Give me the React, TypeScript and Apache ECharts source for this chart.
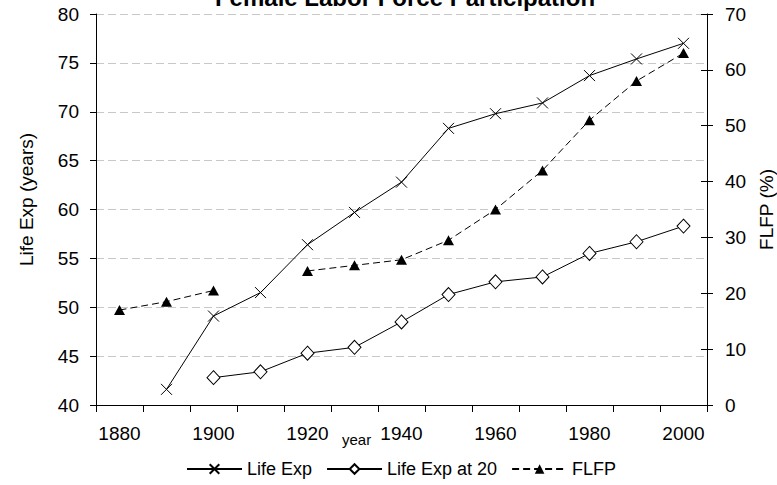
import React, { useEffect, useRef } from "react";
import * as echarts from "echarts";

const years = ["1880", "1890", "1900", "1910", "1920", "1930", "1940", "1950", "1960", "1970", "1980", "1990", "2000"];
const lifeExp = [null, 41.6, 49.1, 51.5, 56.4, 59.7, 62.8, 68.3, 69.8, 70.9, 73.7, 75.4, 77.0];
const lifeExp20 = [null, null, 42.8, 43.4, 45.3, 45.9, 48.5, 51.3, 52.6, 53.1, 55.5, 56.7, 58.3];
const flfp = [17, 18.5, 20.5, null, 24, 25, 26, 29.5, 35, 42, 51, 58, 63];

const FONT = "'Liberation Sans', Arial, sans-serif";

export default function App() {
  const ref = useRef<HTMLDivElement>(null);
  useEffect(() => {
    if (!ref.current) return;
    const chart = echarts.init(ref.current, null, { renderer: "svg" });
    chart.setOption({
      animation: false,
      backgroundColor: "#fff",
      textStyle: { fontFamily: FONT, color: "#000" },
      title: {
        text: "Female Labor Force Participation",
        left: 400,
        textAlign: "center",
        top: -20,
        textStyle: { fontFamily: FONT, fontSize: 24, fontWeight: "bold", color: "#000" },
      },
      grid: { left: 96, right: 70, top: 14, bottom: 80, containLabel: false, outerBoundsMode: "none" },
      legend: {
        top: 455,
        left: 181,
        itemWidth: 55,
        itemHeight: 12,
        itemGap: 14,
        textStyle: { fontFamily: FONT, fontSize: 18, color: "#000" },
        data: ["Life Exp", "Life Exp at 20", "FLFP"],
      },
      xAxis: {
        type: "category",
        data: years,
        boundaryGap: true,
        axisLine: { lineStyle: { color: "#000", width: 1 } },
        axisTick: { show: true, interval: 0, length: 7, lineStyle: { color: "#000" } },
        axisLabel: { interval: 1, margin: 19, fontSize: 19, color: "#000", fontFamily: FONT },
        splitLine: { show: false },
      },
      yAxis: [
        {
          type: "value",
          min: 40,
          max: 80,
          interval: 5,
          position: "left",
          name: "Life Exp (years)",
          nameLocation: "middle",
          nameGap: 60,
          nameTextStyle: { fontSize: 19, color: "#000", fontFamily: FONT, padding: [0, 0, 0, 20] },
          axisLine: { show: true, lineStyle: { color: "#000" } },
          axisTick: { show: true, length: 6, lineStyle: { color: "#000" } },
          axisLabel: { margin: 17, fontSize: 19, color: "#000", fontFamily: FONT },
          splitLine: { show: true, lineStyle: { color: "#c8c8c8", type: [8, 4], width: 1 } },
        },
        {
          type: "value",
          min: 0,
          max: 70,
          interval: 10,
          position: "right",
          name: "FLFP (%)",
          nameLocation: "middle",
          nameGap: 49,
          nameTextStyle: { fontSize: 19, color: "#000", fontFamily: FONT },
          axisLine: { show: true, lineStyle: { color: "#000" } },
          axisTick: { show: true, length: 6, lineStyle: { color: "#000" } },
          axisLabel: { margin: 18, fontSize: 19, color: "#000", fontFamily: FONT },
          splitLine: { show: false },
        },
        {
          type: "value",
          min: 0,
          max: 70,
          interval: 10,
          position: "right",
          axisLine: { show: false },
          axisTick: { show: true, inside: true, length: 6, lineStyle: { color: "#000" } },
          axisLabel: { show: false },
          splitLine: { show: false },
        },
      ],
      graphic: [
        {
          type: "text",
          left: 342,
          top: 432,
          style: { text: "year", fontSize: 15, fill: "#000", fontFamily: FONT },
        },
      ],
      series: [
        {
          name: "Life Exp",
          type: "line",
          yAxisIndex: 0,
          data: lifeExp,
          symbol: "path://M0 0L10 10M10 0L0 10",
          symbolSize: 11,
          showAllSymbol: true,
          lineStyle: { color: "#000", width: 1 },
          itemStyle: { color: "#fff", borderColor: "#000", borderWidth: 1 },
          connectNulls: false,
        },
        {
          name: "Life Exp at 20",
          type: "line",
          yAxisIndex: 0,
          data: lifeExp20,
          symbol: "diamond",
          symbolSize: [13, 14],
          showAllSymbol: true,
          lineStyle: { color: "#000", width: 1 },
          itemStyle: { color: "#fff", borderColor: "#000", borderWidth: 1 },
          connectNulls: false,
        },
        {
          name: "FLFP",
          type: "line",
          yAxisIndex: 1,
          data: flfp,
          symbol: "triangle",
          symbolSize: [11, 10],
          showAllSymbol: true,
          lineStyle: { color: "#000", width: 1, type: [7, 4] },
          itemStyle: { color: "#000", borderColor: "#000", borderWidth: 0 },
          connectNulls: false,
        },
      ],
    });
    return () => chart.dispose();
  }, []);
  return <div ref={ref} style={{ width: 777, height: 485, position: "absolute", left: 0, top: 0 }} />;
}
